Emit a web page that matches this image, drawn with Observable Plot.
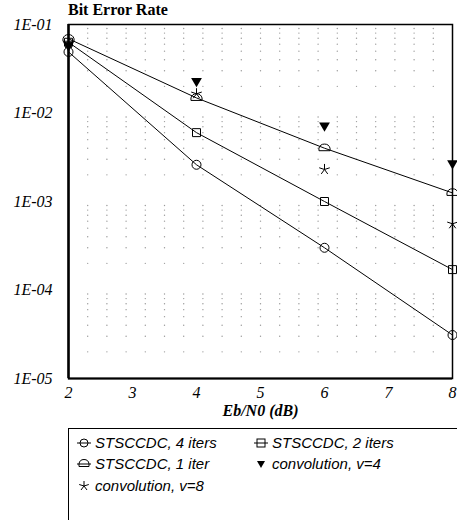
<!DOCTYPE html>
<html><head><meta charset="utf-8">
<script src="https://cdn.jsdelivr.net/npm/d3@7"></script>
<script src="https://cdn.jsdelivr.net/npm/@observablehq/plot@0.6"></script>
<style>
html,body{margin:0;padding:0;background:#fff;overflow:hidden;}
#wrap{position:relative;width:457px;height:520px;}
#title{position:absolute;left:68px;top:1px;font:bold 16px "Liberation Serif",serif;color:#000;}
#chart{position:absolute;left:0;top:0;}
#legend{position:absolute;left:68px;top:428px;width:400px;height:100px;border:1.3px solid #000;box-sizing:border-box;font:italic 15px "Liberation Sans",Arial,sans-serif;color:#000;}
.item{position:absolute;display:flex;align-items:center;white-space:nowrap;}
.item svg{margin-right:4px;}
#chart svg text{font-style:italic;font-family:"Liberation Serif",serif;}
#chart svg [aria-label="x-axis label"] text{font-weight:bold;}
</style></head>
<body><div id="wrap"><div id="title">Bit Error Rate</div><div id="chart"></div><div id="legend"></div></div>
<script>
const ebn0 = [2, 4, 6, 8];
const iter4 = [0.049, 0.0026, 0.00030, 3.1e-5];
const iter2 = [0.063, 0.0060, 0.0010, 1.7e-4];
const iter1 = [0.069, 0.0148, 0.0040, 1.25e-3];
const conv4 = [0.058, 0.023, 0.0072, 0.0027];
const conv8 = [0.061, 0.0165, 0.0023, 5.6e-4];
const seriesNames = ["STSCCDC, 4 iters", "STSCCDC, 2 iters", "STSCCDC, 1 iter", "convolution, v=4", "convolution, v=8"];
const xTicks = [2, 3, 4, 5, 6, 7, 8];
const yTicks = [1e-1, 1e-2, 1e-3, 1e-4, 1e-5];
const yTickLabels = ["1E-01", "1E-02", "1E-03", "1E-04", "1E-05"];

const house = {draw(ctx, size){const r=Math.sqrt(size)/1.6;
  ctx.moveTo(-r,0.45*r);ctx.lineTo(r,0.45*r);ctx.lineTo(r,0);
  ctx.quadraticCurveTo(r*0.8,-0.75*r,0,-0.75*r);ctx.quadraticCurveTo(-r*0.8,-0.75*r,-r,0);ctx.closePath();}};
const star5 = {draw(ctx, size){const r=Math.sqrt(size)/1.6;
  for(let k=0;k<5;k++){const a=-Math.PI/2+k*2*Math.PI/5;ctx.moveTo(0,0);ctx.lineTo(r*Math.cos(a),r*Math.sin(a));}}};

const mk = (arr, s) => ebn0.map((x,i)=>({x, y: arr[i], s}));
const d4 = mk(iter4, seriesNames[0]), d2 = mk(iter2, seriesNames[1]), d1 = mk(iter1, seriesNames[2]);
const c4 = mk(conv4, seriesNames[3]), c8 = mk(conv8, seriesNames[4]);

// dotted background grid (intersections)
const gx = d3.range(1, 20).map(k => 2 + k*0.3);
const gy = [];
for (let e=-5; e<-1+1e-9; e++) for (let m=2; m<=9; m++) gy.push(m*Math.pow(10,e));
const grid = []; gx.forEach(x=>gy.forEach(y=>grid.push({x,y})));

const chart = Plot.plot({
  width: 457, height: 420,
  marginLeft: 68, marginRight: 5, marginTop: 24, marginBottom: 42,
  style: {fontFamily: '"Liberation Serif", serif', fontStyle: "italic", fontSize: "16px", color: "#000", background: "transparent"},
  x: {domain: [2, 8], ticks: xTicks, tickSize: 0, tickPadding: 8, tickFormat: d=>String(d), label: "Eb/N0 (dB)", labelAnchor: "center", labelArrow: "none", labelOffset: 37},
  y: {type: "log", domain: [1e-5, 1e-1], ticks: yTicks, tickSize: 0, tickPadding: 16, tickFormat: d => yTickLabels[yTicks.findIndex(t=>Math.abs(Math.log10(t)-Math.log10(d))<1e-6)], label: null},
  marks: [
    Plot.dot(grid, {x:"x", y:"y", r:0.7, fill:"#999", stroke:"none"}),
    Plot.line(d4, {x:"x", y:"y", stroke:"#000", strokeWidth:1}),
    Plot.line(d2, {x:"x", y:"y", stroke:"#000", strokeWidth:1}),
    Plot.line(d1, {x:"x", y:"y", stroke:"#000", strokeWidth:1}),
    Plot.dot(d4, {x:"x", y:"y", symbol:"circle", r:4.5, stroke:"#000", fill:"none", strokeWidth:1}),
    Plot.dot(d2, {x:"x", y:"y", symbol:"square", r:4.5, stroke:"#000", fill:"none", strokeWidth:1}),
    Plot.dot(d1, {x:"x", y:"y", symbol:house, r:5, stroke:"#000", fill:"none", strokeWidth:1}),
    Plot.dot(c4, {x:"x", y:"y", symbol:"triangle", rotate:180, r:4, fill:"#000", stroke:"none"}),
    Plot.dot(c8, {x:"x", y:"y", symbol:star5, r:5, stroke:"#000", fill:"none", strokeWidth:1}),
    Plot.frame({stroke:"#000", strokeWidth:1.5}),
    Plot.ruleX([2], {stroke:"#000", strokeWidth:2.5}),
    Plot.ruleY([1e-5], {stroke:"#000", strokeWidth:2})
  ]
});
document.getElementById("chart").appendChild(chart);

// legend
const symPaths = [
  '<line x1="0" y1="7" x2="14" y2="7" stroke="#000"/><circle cx="7" cy="7" r="4" fill="none" stroke="#000"/>',
  '<line x1="0" y1="7" x2="14" y2="7" stroke="#000"/><rect x="3" y="3" width="8" height="8" fill="none" stroke="#000"/>',
  '<line x1="0" y1="7" x2="14" y2="7" stroke="#000"/><path d="M2,9.5H12V7Q11.5,2.5 7,2.5Q2.5,2.5 2,7Z" fill="none" stroke="#000"/>',
  '<path d="M3,4H11L7,11Z" fill="#000"/>',
  '<path d="M7,7L7,2M7,7L11.8,5.5M7,7L10,11M7,7L4,11M7,7L2.2,5.5" stroke="#000" fill="none"/>'
];
const pos = [[8,5],[185,5],[8,26],[185,26],[8,48]];
const leg = document.getElementById("legend");
seriesNames.forEach((n,i)=>{
  const el = document.createElement("div");
  el.className = "item";
  el.style.left = pos[i][0]+"px"; el.style.top = pos[i][1]+"px";
  el.innerHTML = '<svg width="14" height="14">'+symPaths[i]+'</svg><span>'+n+'</span>';
  leg.appendChild(el);
});
</script></body></html>
